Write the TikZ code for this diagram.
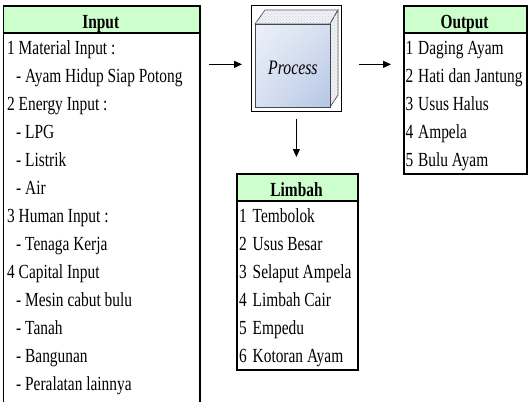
\documentclass[tikz,border=0pt]{standalone}
\usepackage{fontspec}
\setmainfont{Liberation Serif}[FakeStretch=0.77]
\usetikzlibrary{arrows.meta,patterns,shadings}
\definecolor{hdrgreen}{RGB}{204,255,204}
\definecolor{cubeedge}{RGB}{70,70,80}
\definecolor{cubelight}{RGB}{238,241,248}
\definecolor{cubeUL}{RGB}{236,240,249}
\definecolor{cubeUR}{RGB}{214,223,240}
\definecolor{cubeLL}{RGB}{216,225,241}
\definecolor{cubeLR}{RGB}{180,197,228}
\begin{document}
\begin{tikzpicture}[x=1pt,y=-1pt,
  frame/.style={draw, line width=1.8pt, inner sep=0pt, anchor=north west},
  rowtxt/.style={anchor=base west, inner sep=0pt, font=\fontsize{20}{23}\selectfont},
  hdrtxt/.style={anchor=base, inner sep=0pt, font=\fontsize{20}{23}\selectfont\bfseries},
  arr/.style={-{Triangle[length=8pt,width=7pt]}, line width=1.2pt},
  face/.style={draw=cubeedge, line width=0.7pt, fill=cubelight},
  dotsfill/.style={pattern=crosshatch dots, pattern color=gray!35}
]
\useasboundingbox (0,0) rectangle (528,402);
\clip (0,0) rectangle (528,402);

% ---------------- Input box (rows of 28)
\fill[hdrgreen] (2.5,5) rectangle (199,33);
\draw[line width=1.3pt] (2.5,33) -- (199,33);
\node[frame, minimum width=196.5pt, minimum height=430pt] (inputbox) at (2.5,5) {};
\node[hdrtxt] (inhdr) at (100.75,28.5) {Input};
\node[rowtxt] (in1)  at (7,54)   {1 Material Input :};
\node[rowtxt] (in2)  at (16,82)  {- Ayam Hidup Siap Potong};
\node[rowtxt] (in3)  at (7,110)  {2 Energy Input :};
\node[rowtxt] (in4)  at (16,138) {- LPG};
\node[rowtxt] (in5)  at (16,166) {- Listrik};
\node[rowtxt] (in6)  at (16,194) {- Air};
\node[rowtxt] (in7)  at (7,222)  {3 Human Input :};
\node[rowtxt] (in8)  at (16,250) {- Tenaga Kerja};
\node[rowtxt] (in9)  at (7,278)  {4 Capital Input};
\node[rowtxt] (in10) at (16,306) {- Mesin cabut bulu};
\node[rowtxt] (in11) at (16,334) {- Tanah};
\node[rowtxt] (in12) at (16,362) {- Bangunan};
\node[rowtxt] (in13) at (16,390) {- Peralatan lainnya};

% ---------------- Process cube
\node[draw, line width=0.8pt, minimum width=90pt, minimum height=106pt, anchor=north west, inner sep=0pt] (procframe) at (251,5) {};
\path[face] (255,24) -- (265,10) -- (338,10) -- (330,24) -- cycle;
\path[dotsfill] (255,24) -- (265,10) -- (338,10) -- (330,24) -- cycle;
\path[face] (330,24) -- (338,10) -- (338,95) -- (330,107) -- cycle;
\path[dotsfill] (330,24) -- (338,10) -- (338,95) -- (330,107) -- cycle;
\node[draw=cubeedge, line width=0.7pt, anchor=north west, inner sep=0pt,
      minimum width=75pt, minimum height=83pt,
      upper left=cubeUL, upper right=cubeUR, lower left=cubeLL, lower right=cubeLR] (cubefront) at (255,24) {};
\node[inner sep=0pt, font=\fontsize{20.5}{23}\selectfont\itshape] (proctxt) at ([yshift=-2pt]cubefront.center) {Process};

% ---------------- Output box
\fill[hdrgreen] (403,5) rectangle (526,33);
\draw[line width=1.3pt] (403,33) -- (526,33);
\node[frame, minimum width=123pt, minimum height=168pt] (outbox) at (403,5) {};
\node[hdrtxt] (outhdr) at (464.5,28.5) {Output};
\node[rowtxt] (out1) at (405.5,54)  {\makebox[12.5pt][l]{1}Daging Ayam};
\node[rowtxt] (out2) at (405.5,82)  {\makebox[12.5pt][l]{2}Hati dan Jantung};
\node[rowtxt] (out3) at (405.5,110) {\makebox[12.5pt][l]{3}Usus Halus};
\node[rowtxt] (out4) at (405.5,138) {\makebox[12.5pt][l]{4}Ampela};
\node[rowtxt] (out5) at (405.5,166) {\makebox[12.5pt][l]{5}Bulu Ayam};

% ---------------- Limbah box
\fill[hdrgreen] (236,173) rectangle (357,201);
\draw[line width=1.3pt] (236,201) -- (357,201);
\node[frame, minimum width=121pt, minimum height=196pt] (limbahbox) at (236,173) {};
\node[hdrtxt] (limhdr) at (296.5,196.5) {Limbah};
\node[rowtxt] (lim1) at (239,222) {\makebox[13.5pt][l]{1}Tembolok};
\node[rowtxt] (lim2) at (239,250) {\makebox[13.5pt][l]{2}Usus Besar};
\node[rowtxt] (lim3) at (239,278) {\makebox[13.5pt][l]{3}Selaput Ampela};
\node[rowtxt] (lim4) at (239,306) {\makebox[13.5pt][l]{4}Limbah Cair};
\node[rowtxt] (lim5) at (239,334) {\makebox[13.5pt][l]{5}Empedu};
\node[rowtxt] (lim6) at (239,362) {\makebox[13.5pt][l]{6}Kotoran Ayam};

% ---------------- Arrows
\draw[arr] ([xshift=8pt,yshift=1.5pt]inputbox.east |- cubefront.center) -- ([xshift=-9pt,yshift=1.5pt]procframe.west |- cubefront.center);
\draw[arr] ([xshift=17pt,yshift=1.5pt]procframe.east |- cubefront.center) -- ([xshift=-12pt,yshift=1.5pt]outbox.west |- cubefront.center);
\draw[arr] ([yshift=-7pt]procframe.south) -- ([yshift=16pt]procframe.south |- limbahbox.north);
\end{tikzpicture}
\end{document}
